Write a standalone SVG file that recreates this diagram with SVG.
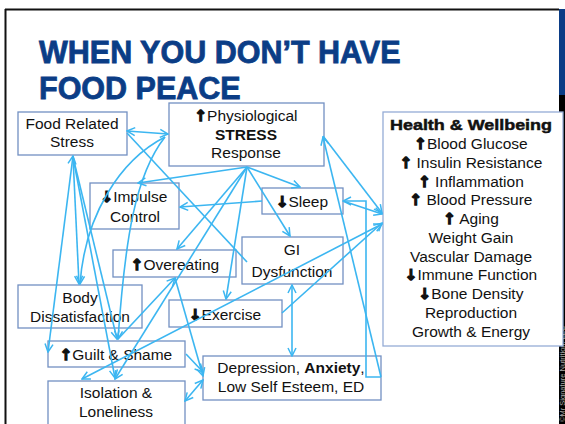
<svg xmlns="http://www.w3.org/2000/svg" width="565" height="424" viewBox="0 0 565 424">
<defs>
<style>
.bx{fill:#fff;stroke:#7290C2;stroke-width:1.3}
.t{font-family:"Liberation Sans",Arial,sans-serif;font-size:15.5px;fill:#111;text-anchor:middle}
.b{font-weight:bold}
.ar{font-family:"DejaVu Sans",sans-serif;font-weight:bold;font-size:15px;stroke:#111;stroke-width:1.3}
.ttl{font-family:"Liberation Sans",Arial,sans-serif;font-size:30.5px;font-weight:bold;fill:#0B3D86;stroke:#0B3D86;stroke-width:0.8}
#connectors path{fill:none;stroke:#3CB6F1;stroke-width:1.6}
.e{marker-end:url(#a)}
.s{marker-start:url(#a)}
</style>
<marker id="a" viewBox="0 0 10 10" refX="9" refY="5" markerWidth="10" markerHeight="10" markerUnits="userSpaceOnUse" orient="auto-start-reverse">
<path d="M1,1 L9,5 L1,9" fill="none" stroke="#3CB6F1" stroke-width="1.5"/>
</marker>
</defs>
<rect width="565" height="424" fill="#fff"/>
<g id="frame">
<line x1="5" y1="9.5" x2="559" y2="9.5" stroke="#111" stroke-width="2"/>
<line x1="5.5" y1="9" x2="5.5" y2="424" stroke="#111" stroke-width="2"/>
<rect x="559" y="9" width="6" height="86" fill="#0B3D86"/>
<rect x="559" y="95" width="6" height="329" fill="#000"/>
<text x="564.5" y="422" transform="rotate(-90 564.5 422)" font-family="Liberation Sans, Arial, sans-serif" font-size="7.5" fill="#aaa">©Mr Signature Nutrition, LLC</text>
</g>
<g id="title">
<text class="ttl" x="39" y="63">WHEN YOU DON’T HAVE</text>
<text class="ttl" x="39" y="99">FOOD PEACE</text>
</g>
<g id="food-stress">
<rect class="bx" x="18" y="112" width="109" height="43"/>
<text class="t" x="72" y="129">Food Related</text>
<text class="t" x="72" y="147">Stress</text>
</g>
<g id="physio-stress">
<rect class="bx" x="169" y="103" width="155" height="63"/>
<text class="t" x="246" y="121"><tspan class="ar">↑</tspan>Physiological</text>
<text class="t b" x="246" y="140">STRESS</text>
<text class="t" x="246" y="158">Response</text>
</g>
<g id="impulse">
<rect class="bx" x="90" y="183" width="89" height="46"/>
<text class="t" x="134" y="202"><tspan class="ar">↓</tspan>Impulse</text>
<text class="t" x="135" y="222">Control</text>
</g>
<g id="sleep">
<rect class="bx" x="262" y="188" width="81" height="26"/>
<text class="t" x="302" y="207"><tspan class="ar">↓</tspan>Sleep</text>
</g>
<g id="gi">
<rect class="bx" x="242" y="237" width="101" height="47"/>
<text class="t" x="292" y="255">GI</text>
<text class="t" x="292" y="277">Dysfunction</text>
</g>
<g id="overeating">
<rect class="bx" x="113" y="250" width="123" height="27"/>
<text class="t" x="175" y="270"><tspan class="ar">↑</tspan>Overeating</text>
</g>
<g id="body">
<rect class="bx" x="18" y="285" width="124" height="43"/>
<text class="t" x="80" y="303">Body</text>
<text class="t" x="80" y="322">Dissatisfaction</text>
</g>
<g id="exercise">
<rect class="bx" x="169" y="300" width="113" height="27"/>
<text class="t" x="225" y="320"><tspan class="ar">↓</tspan>Exercise</text>
</g>
<g id="guilt">
<rect class="bx" x="48" y="341" width="137" height="26"/>
<text class="t" x="116" y="360"><tspan class="ar">↑</tspan>Guilt &amp; Shame</text>
</g>
<g id="isolation">
<rect class="bx" x="48" y="381" width="137" height="46"/>
<text class="t" x="116" y="398">Isolation &amp;</text>
<text class="t" x="116" y="417">Loneliness</text>
</g>
<g id="depression">
<rect class="bx" x="203" y="356" width="178" height="44"/>
<text class="t" x="291" y="373">Depression, <tspan class="b">Anxiety</tspan>,</text>
<text class="t" x="291" y="392">Low Self Esteem, ED</text>
</g>
<g id="health">
<rect x="383" y="112" width="180" height="234" fill="#fff" stroke="#95ACD6" stroke-width="1.3"/>
<text class="t b" x="471" y="130" stroke="#111" stroke-width="0.5" textLength="162" lengthAdjust="spacingAndGlyphs">Health &amp; Wellbeing</text>
<text class="t" x="471" y="149"><tspan class="ar">↑</tspan>Blood Glucose</text>
<text class="t" x="471" y="168"><tspan class="ar">↑</tspan> Insulin Resistance</text>
<text class="t" x="471" y="187"><tspan class="ar">↑</tspan> Inflammation</text>
<text class="t" x="471" y="205"><tspan class="ar">↑</tspan> Blood Pressure</text>
<text class="t" x="471" y="224"><tspan class="ar">↑</tspan> Aging</text>
<text class="t" x="471" y="243">Weight Gain</text>
<text class="t" x="471" y="262">Vascular Damage</text>
<text class="t" x="471" y="280"><tspan class="ar">↓</tspan>Immune Function</text>
<text class="t" x="471" y="299"><tspan class="ar">↓</tspan>Bone Density</text>
<text class="t" x="471" y="318">Reproduction</text>
<text class="t" x="471" y="337">Growth &amp; Energy</text>
</g>
<g id="connectors">
<path class="s e" d="M127,131 L168,134"/>
<path d="M127,133 L247,262"/>
<path class="e" d="M165,137 C120,160 85,215 80,284"/>
<path class="e" d="M165,137 C135,175 125,240 118,339"/>
<path class="s e" d="M73,156 L48,352"/>
<path class="e" d="M73,157 L79,284"/>
<path class="e" d="M73,157 L115,378"/>
<path class="e" d="M73,157 L117,339"/>
<path class="e" d="M247,167 L138,183"/>
<path class="e" d="M247,167 L300,187"/>
<path class="e" d="M247,167 L290,236"/>
<path class="e" d="M247,167 L177,249"/>
<path class="e" d="M247,167 L226,299"/>
<path class="e" d="M247,167 L115,379"/>
<path class="e" d="M262,201 L180,207"/>
<path class="e" d="M118,339 L175,278"/>
<path class="e" d="M175,278 L203,376"/>
<path class="e" d="M186,354 L203,372"/>
<path class="s e" d="M185,401 L203,380"/>
<path class="s e" d="M292,285 L292,356"/>
<path class="e" d="M381,377 L323,137"/>
<path class="e" d="M323,136 L382,213"/>
<path class="e" d="M343,201 L382,214"/>
<path class="e" d="M381,377 L366,377 L366,201 L343,201"/>
<path class="e" d="M282,313 L382,223"/>
<path class="s e" d="M382,224 L82,379"/>
</g>
</svg>
